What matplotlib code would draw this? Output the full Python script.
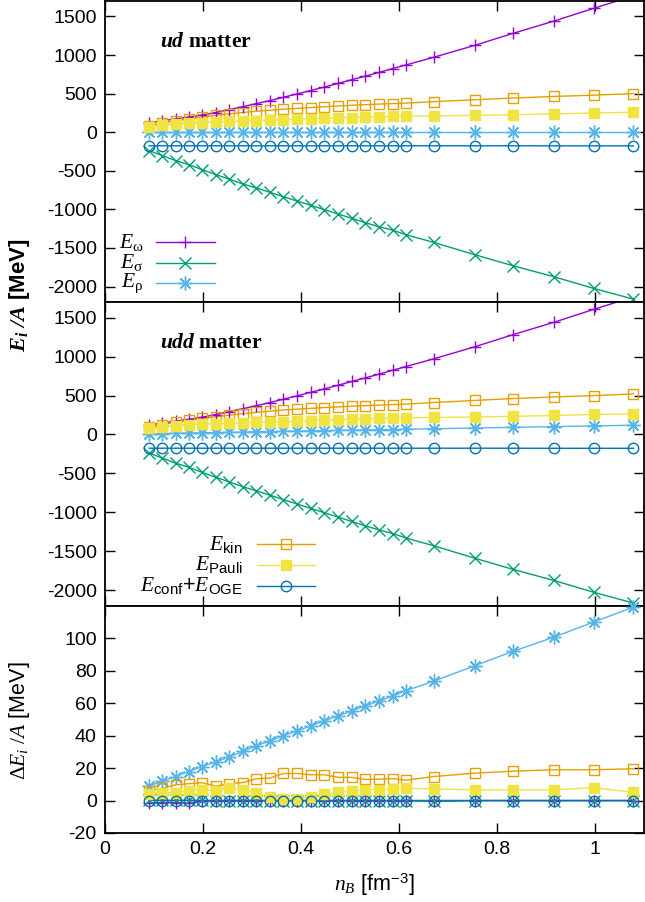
import matplotlib
matplotlib.use("Agg")
import matplotlib.pyplot as plt
from matplotlib.lines import Line2D

# baryon density points [fm^-3]
n_b = [0.090, 0.117, 0.144, 0.171, 0.198, 0.226, 0.253, 0.281, 0.309, 0.337,
       0.364, 0.392, 0.420, 0.448, 0.476, 0.504, 0.532, 0.560, 0.588, 0.615,
       0.671, 0.755, 0.833, 0.917, 0.998, 1.079]

# ud matter, E_i/A [MeV]
ud_omega = [122, 148, 172, 196, 222, 255, 292, 330, 370, 410, 452, 495, 540,
            585, 632, 680, 727, 775, 825, 872, 970, 1125, 1280, 1440, 1605, 1765]
ud_sigma = [-238, -303, -368, -420, -485, -549, -606, -670, -722, -779, -835,
            -891, -947, -1004, -1060, -1116, -1173, -1225, -1271, -1329, -1427,
            -1587, -1730, -1873, -2024, -2162]
ud_rho = [0, 0, 0, 0, 0, 0, 0, 0, 0, 0, 0, 0, 0, 0, 0, 0, 0, 0, 0, 0, 0, 0,
          0, 0, 0, 0]
ud_kin = [86, 118, 147, 172, 196, 217, 237, 255, 271, 285, 297, 308, 319, 330,
          340, 349, 357, 364, 371, 377, 395, 420, 443, 463, 480, 500]
ud_pauli = [73, 93, 108, 118, 125, 132, 139, 145, 151, 157, 163, 169, 175, 181,
            186, 190, 195, 200, 204, 207, 212, 218, 226, 237, 249, 259]
ud_conf = [-176, -176, -176, -176, -176, -176, -176, -176, -176, -176, -176,
           -176, -176, -176, -176, -176, -176, -176, -176, -176, -176, -176,
           -176, -177, -177, -177]

# udd matter, E_i/A [MeV]
udd_omega = [121, 147, 171, 194, 222, 255, 292, 330, 370, 410, 452, 495, 540,
             585, 632, 680, 727, 775, 825, 872, 970, 1125, 1280, 1440, 1605, 1765]
udd_sigma = [-237, -303, -367, -420, -485, -549, -606, -670, -722, -779, -835,
             -891, -947, -1004, -1060, -1116, -1173, -1225, -1271, -1329, -1427,
             -1587, -1730, -1873, -2024, -2162]
udd_rho = [9, 12, 15, 18, 21, 24, 27, 30, 34, 37, 40, 43, 46, 49, 52, 55, 58,
           61, 64, 68, 74, 83, 92, 101, 110, 119]
udd_kin = [92, 125, 157, 183, 207, 226, 247, 266, 284, 299, 314, 325, 335, 346,
           354, 363, 370, 377, 384, 390, 410, 437, 461, 482, 499, 520]
udd_pauli = [77, 98, 113, 124, 131, 138, 147, 151, 156, 160, 165, 171, 177, 185,
             191, 196, 202, 207, 212, 215, 219, 225, 233, 244, 257, 264]
udd_conf = ud_conf

# differences udd - ud [MeV]
d_omega = [-1.6, -1.2, -1.2, -1.6, -0.4, -0.2, 0, 0, 0, 0, 0, 0, 0, 0, 0, 0,
           0, 0, 0, 0, 0, 0, 0, 0, 0, 0]
d_sigma = [0.3, 0.2, 0.2, 0.2, 0.1, 0, 0, 0, 0, 0, 0, 0, 0, 0, 0, 0, 0, 0, 0,
           0, 0, 0, 0, 0, 0, 0]
d_rho = [9.1, 11.8, 14.8, 17.9, 21.0, 23.7, 26.8, 30.3, 33.8, 36.7, 40.0, 42.9,
         46.0, 49.1, 52.2, 55.3, 58.4, 61.4, 64.5, 67.8, 73.6, 83.1, 92.0,
         100.8, 110.1, 119.2]
d_kin = [5.9, 7.6, 9.7, 10.4, 11.0, 8.9, 10.3, 11.1, 13.4, 13.9, 16.7, 16.7,
         15.9, 15.9, 14.3, 14.3, 13.0, 13.2, 13.5, 12.6, 14.8, 16.9, 18.1, 19.0,
         19.0, 19.6]
d_pauli = [4.0, 4.9, 4.8, 6.0, 6.6, 6.2, 8.0, 6.6, 4.6, 2.2, 1.2, 1.2, 2.0, 3.8,
           5.0, 5.9, 6.8, 6.8, 7.4, 7.6, 7.2, 6.6, 6.6, 6.6, 8.0, 5.0]
d_conf = [0, 0, 0, 0, 0, 0, 0, 0, 0, 0, 0, 0, 0, 0, 0, 0, 0, 0, 0, 0, -0.5, 0,
          0, 0, 0, 0]

x_ticks = [0, 0.2, 0.4, 0.6, 0.8, 1.0]
x_tick_labels = ["0", "0.2", "0.4", "0.6", "0.8", "1"]
e_ticks = [-2000, -1500, -1000, -500, 0, 500, 1000, 1500]
de_ticks = [-20, 0, 20, 40, 60, 80, 100]

# gnuplot default palette / point types
STYLES = {
    "omega": dict(color="#9400D3", marker="+", ms=9, mew=1.0),
    "sigma": dict(color="#009E73", marker="x", ms=8, mew=1.0),
    "rho": dict(color="#56B4E9", marker=(8, 2, 0), ms=10, mew=1.0),
    "kin": dict(color="#E69F00", marker="s", ms=7.5, mew=1.0, mfc="none"),
    "pauli": dict(color="#F0E442", marker="s", ms=7.5, mew=1.0),
    "conf": dict(color="#0072B2", marker="o", ms=7.5, mew=1.0, mfc="none"),
}
ORDER = ["omega", "sigma", "rho", "kin", "pauli", "conf"]

SERIF = "Liberation Serif"


def setup_fonts():
    plt.rcParams["font.family"] = ["Liberation Sans", "DejaVu Sans"]
    plt.rcParams["axes.unicode_minus"] = False
    plt.rcParams["mathtext.fontset"] = "custom"
    plt.rcParams["mathtext.rm"] = SERIF
    plt.rcParams["mathtext.it"] = SERIF + ":italic"
    plt.rcParams["mathtext.bf"] = SERIF + ":bold"
    if "mathtext.bfit" in plt.rcParams:
        plt.rcParams["mathtext.bfit"] = SERIF + ":italic:bold"
    plt.rcParams["mathtext.sf"] = "Liberation Sans"


def draw_series(ax, y, key, ylim):
    st = STYLES[key]
    ax.plot(n_b, y, color=st["color"], lw=1.0, zorder=2)
    # gnuplot does not clip points that are inside the range
    xs = [x for x, v in zip(n_b, y) if ylim[0] <= v <= ylim[1]]
    ys = [v for v in y if ylim[0] <= v <= ylim[1]]
    ax.plot(xs, ys, ls="none", marker=st["marker"], ms=st["ms"],
            mew=st["mew"], mec=st["color"], mfc=st.get("mfc", st["color"]),
            clip_on=False, zorder=3)


def style_axes(ax, ylim, yticks, show_x):
    ax.set_xlim(0, 1.1)
    ax.set_ylim(*ylim)
    ax.set_xticks(x_ticks)
    ax.set_yticks(yticks)
    ax.set_yticklabels([str(t) for t in yticks])
    if show_x:
        ax.set_xticklabels(x_tick_labels)
    else:
        ax.set_xticklabels([])
    ax.tick_params(direction="in", length=7, width=1.0, top=True, right=True,
                   labelsize=14, pad=6)
    for sp in ax.spines.values():
        sp.set_linewidth(1.3)


def manual_legend(ax, keys, labels, x_text, x0, x1, ys):
    for key, lab, y in zip(keys, labels, ys):
        st = STYLES[key]
        ax.text(x_text, y, lab, ha="right", va="center", fontsize=15.5,
                transform=ax.transAxes)
        ax.add_line(Line2D([x0, x1], [y, y], color=st["color"], lw=1.0,
                           transform=ax.transAxes))
        ax.add_line(Line2D([(x0 + x1) / 2], [y], ls="none",
                           marker=st["marker"], ms=st["ms"], mew=st["mew"],
                           mec=st["color"], mfc=st.get("mfc", st["color"]),
                           transform=ax.transAxes))


def main():
    setup_fonts()
    fig = plt.figure(figsize=(6.45, 9.02), dpi=100)
    left, width = 0.1628, 0.835
    ax1 = fig.add_axes([left, 0.6652, width, 0.3337])
    ax2 = fig.add_axes([left, 0.3282, width, 0.3370])
    ax3 = fig.add_axes([left, 0.0765, width, 0.2517])

    e_lim = (-2200, 1700)
    de_lim = (-20, 120)

    ud = dict(omega=ud_omega, sigma=ud_sigma, rho=ud_rho, kin=ud_kin,
              pauli=ud_pauli, conf=ud_conf)
    udd = dict(omega=udd_omega, sigma=udd_sigma, rho=udd_rho, kin=udd_kin,
               pauli=udd_pauli, conf=udd_conf)
    diff = dict(omega=d_omega, sigma=d_sigma, rho=d_rho, kin=d_kin,
                pauli=d_pauli, conf=d_conf)

    for ax, data, lim in [(ax1, ud, e_lim), (ax2, udd, e_lim), (ax3, diff, de_lim)]:
        for key in ORDER:
            draw_series(ax, data[key], key, lim)

    style_axes(ax1, e_lim, e_ticks, False)
    style_axes(ax2, e_lim, e_ticks, False)
    style_axes(ax3, de_lim, de_ticks, True)

    ax1.text(0.102, 0.864, r"$\mathbfit{ud}$ matter", fontfamily=SERIF,
             fontweight="bold", fontsize=15.5, ha="left", va="center",
             transform=ax1.transAxes)
    ax2.text(0.102, 0.865, r"$\mathbfit{udd}$ matter", fontfamily=SERIF,
             fontweight="bold", fontsize=15.5, ha="left", va="center",
             transform=ax2.transAxes)

    manual_legend(ax1, ["omega", "sigma", "rho"],
                  [r"$E_{\mathrm{\omega}}$", r"$E_{\mathrm{\sigma}}$",
                   r"$E_{\mathrm{\rho}}$"],
                  0.072, 0.0946, 0.204, [0.199, 0.130, 0.063])
    manual_legend(ax2, ["kin", "pauli", "conf"],
                  [r"$E_{\mathsf{kin}}$", r"$E_{\mathsf{Pauli}}$",
                   r"$E_{\mathsf{conf}}\mathsf{+}E_{\mathsf{OGE}}$"],
                  0.256, 0.282, 0.3905, [0.203, 0.135, 0.066])

    fig.text(0.030, 1 - 295 / 902, r"$\mathbfit{E}_{\mathbfit{i}}\ \mathbfit{/A}$ [MeV]",
             rotation=90, ha="center", va="center", fontsize=16,
             fontweight="bold")
    fig.text(0.030, 1 - 721 / 902, r"$\Delta E_{i}\ /A$ [MeV]",
             rotation=90, ha="center", va="center", fontsize=15.5)
    fig.text(0.581, 1 - 885 / 902, r"$n_B$ [fm$^{\mathsf{-3}}$]",
             ha="center", va="center", fontsize=15.5)

    fig.savefig("out.png", dpi=100)


if __name__ == "__main__":
    main()
